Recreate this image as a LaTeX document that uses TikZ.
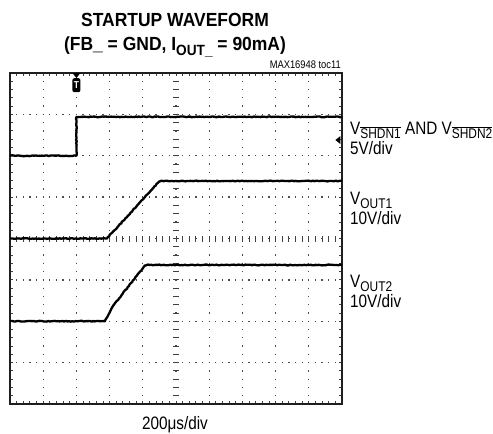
\documentclass[tikz,border=0pt]{standalone}
\usepackage{graphicx}
\usepackage{fontspec}
\usepackage{tikz}
\usetikzlibrary{positioning,decorations.pathmorphing}
\newfontfamily\labelfont[FakeStretch=0.85]{Liberation Sans}
\newfontfamily\headfont[FakeStretch=0.92]{Liberation Sans}
\newcommand\lowsub[1]{\raisebox{-.22em}{\scalebox{.78}{#1}}}
\newcommand\barsub[1]{\raisebox{-.22em}{\scalebox{.78}{$\overline{\mbox{#1}}$}}}
\tikzset{
  screen/.style={draw=black!88, line width=2.6pt},
  vdots/.style={draw=black!70, line width=1.3pt, dash pattern=on 1.3pt off 6.975pt, dash phase=.65pt},
  hdots/.style={draw=black!70, line width=1.3pt, dash pattern=on 1.3pt off 5.34pt, dash phase=.65pt},
  tickline/.style={draw=black!75, line width=.9pt},
  trace/.style={draw=black, line width=2.3pt, line join=round,
    decorate, decoration={random steps, segment length=1.6pt, amplitude=.4pt}},
  trigmark/.style={fill=black, text=white, rounded corners=2pt, inner sep=.6pt,
    minimum width=8pt, minimum height=14pt, font=\labelfont\bfseries\fontsize{10}{10}\selectfont},
  titletext/.style={font=\headfont\bfseries\fontsize{19}{22}\selectfont, inner sep=0pt},
  chlabel/.style={font=\labelfont\fontsize{18}{20}\selectfont, anchor=west, inner sep=0pt},
  smalltext/.style={font=\labelfont\fontsize{11}{12}\selectfont, inner sep=0pt},
}
\begin{document}
\begin{tikzpicture}[x=1pt, y=-1pt]
  \useasboundingbox (0,0) rectangle (493,434);
  \pgfmathsetseed{16948}

  % headings
  \node[titletext] (title) at (175,20) {STARTUP WAVEFORM};
  \node[titletext] (cond) at (175,47) {(FB\_ = GND, I\lowsub{OUT\_} = 90mA)};
  \node[smalltext, anchor=east] (fig) at (341,65) {MAX16948 toc11};

  \begin{scope}[xshift=10pt, yshift=-73pt, x=33.2pt, y=-41.375pt]
    % dotted grid
    \foreach \i in {1,...,9} \draw[vdots] (\i,0) -- (\i,8);
    \foreach \j in {1,...,7} \draw[hdots] (0,\j) -- (10,\j);
    % ticks on the centre axes and on the frame
    \foreach \k in {1,...,49} {
      \draw[tickline] (\k/5,4) ++(0,-3pt) -- ++(0,6pt);
      \draw[tickline] (\k/5,0) -- ++(0,-3pt);
      \draw[tickline] (\k/5,8) -- ++(0,3pt);
    }
    \foreach \k in {1,...,39} {
      \draw[tickline] (5,\k/5) ++(-3pt,0) -- ++(6pt,0);
      \draw[tickline] (0,\k/5) -- ++(3pt,0);
      \draw[tickline] (10,\k/5) -- ++(-3pt,0);
    }
    \draw[screen] (0,0) rectangle (10,8);

    % trigger and level markers
    \fill (2,0) ++(-4pt,0) -- ++(8pt,0) -- ++(-4pt,-5pt) -- cycle;
    \node[trigmark, anchor=north] (trig) at ([yshift=-5pt]2,0) {T};
    \fill (10,1.62) ++(-1.6pt,4pt) -- ++(0,-8pt) -- ++(-5pt,4pt) -- cycle;

    % traces
    \draw[trace] (0,2) -- (2,2) -- (2,1.06) -- (10,1.06);
    \draw[trace] (0,4) -- (2.92,4) .. controls (3.0,3.92) .. (3.15,3.8)
      -- (4.45,2.66) .. controls (4.52,2.61) .. (4.65,2.61) -- (10,2.61);
    \draw[trace] (0,6) -- (2.86,6) .. controls (2.95,5.85) .. (3.1,5.63)
      -- (4.0,4.72) .. controls (4.08,4.64) .. (4.2,4.64) -- (10,4.64);
  \end{scope}

  % channel labels
  \node[chlabel] (shdn) at (350,130) {V\barsub{SHDN1} AND V\barsub{SHDN2}};
  \node[chlabel, below=3pt of shdn.south west, anchor=north west] (shdndiv) {5V/div};
  \node[chlabel] (out1) at (350,200) {V\lowsub{OUT1}};
  \node[chlabel, below=3pt of out1.south west, anchor=north west] (out1div) {10V/div};
  \node[chlabel] (out2) at (350,283) {V\lowsub{OUT2}};
  \node[chlabel, below=3pt of out2.south west, anchor=north west] (out2div) {10V/div};
  \node[chlabel, anchor=center] (time) at (175,425) {200μs/div};
\end{tikzpicture}
\end{document}
